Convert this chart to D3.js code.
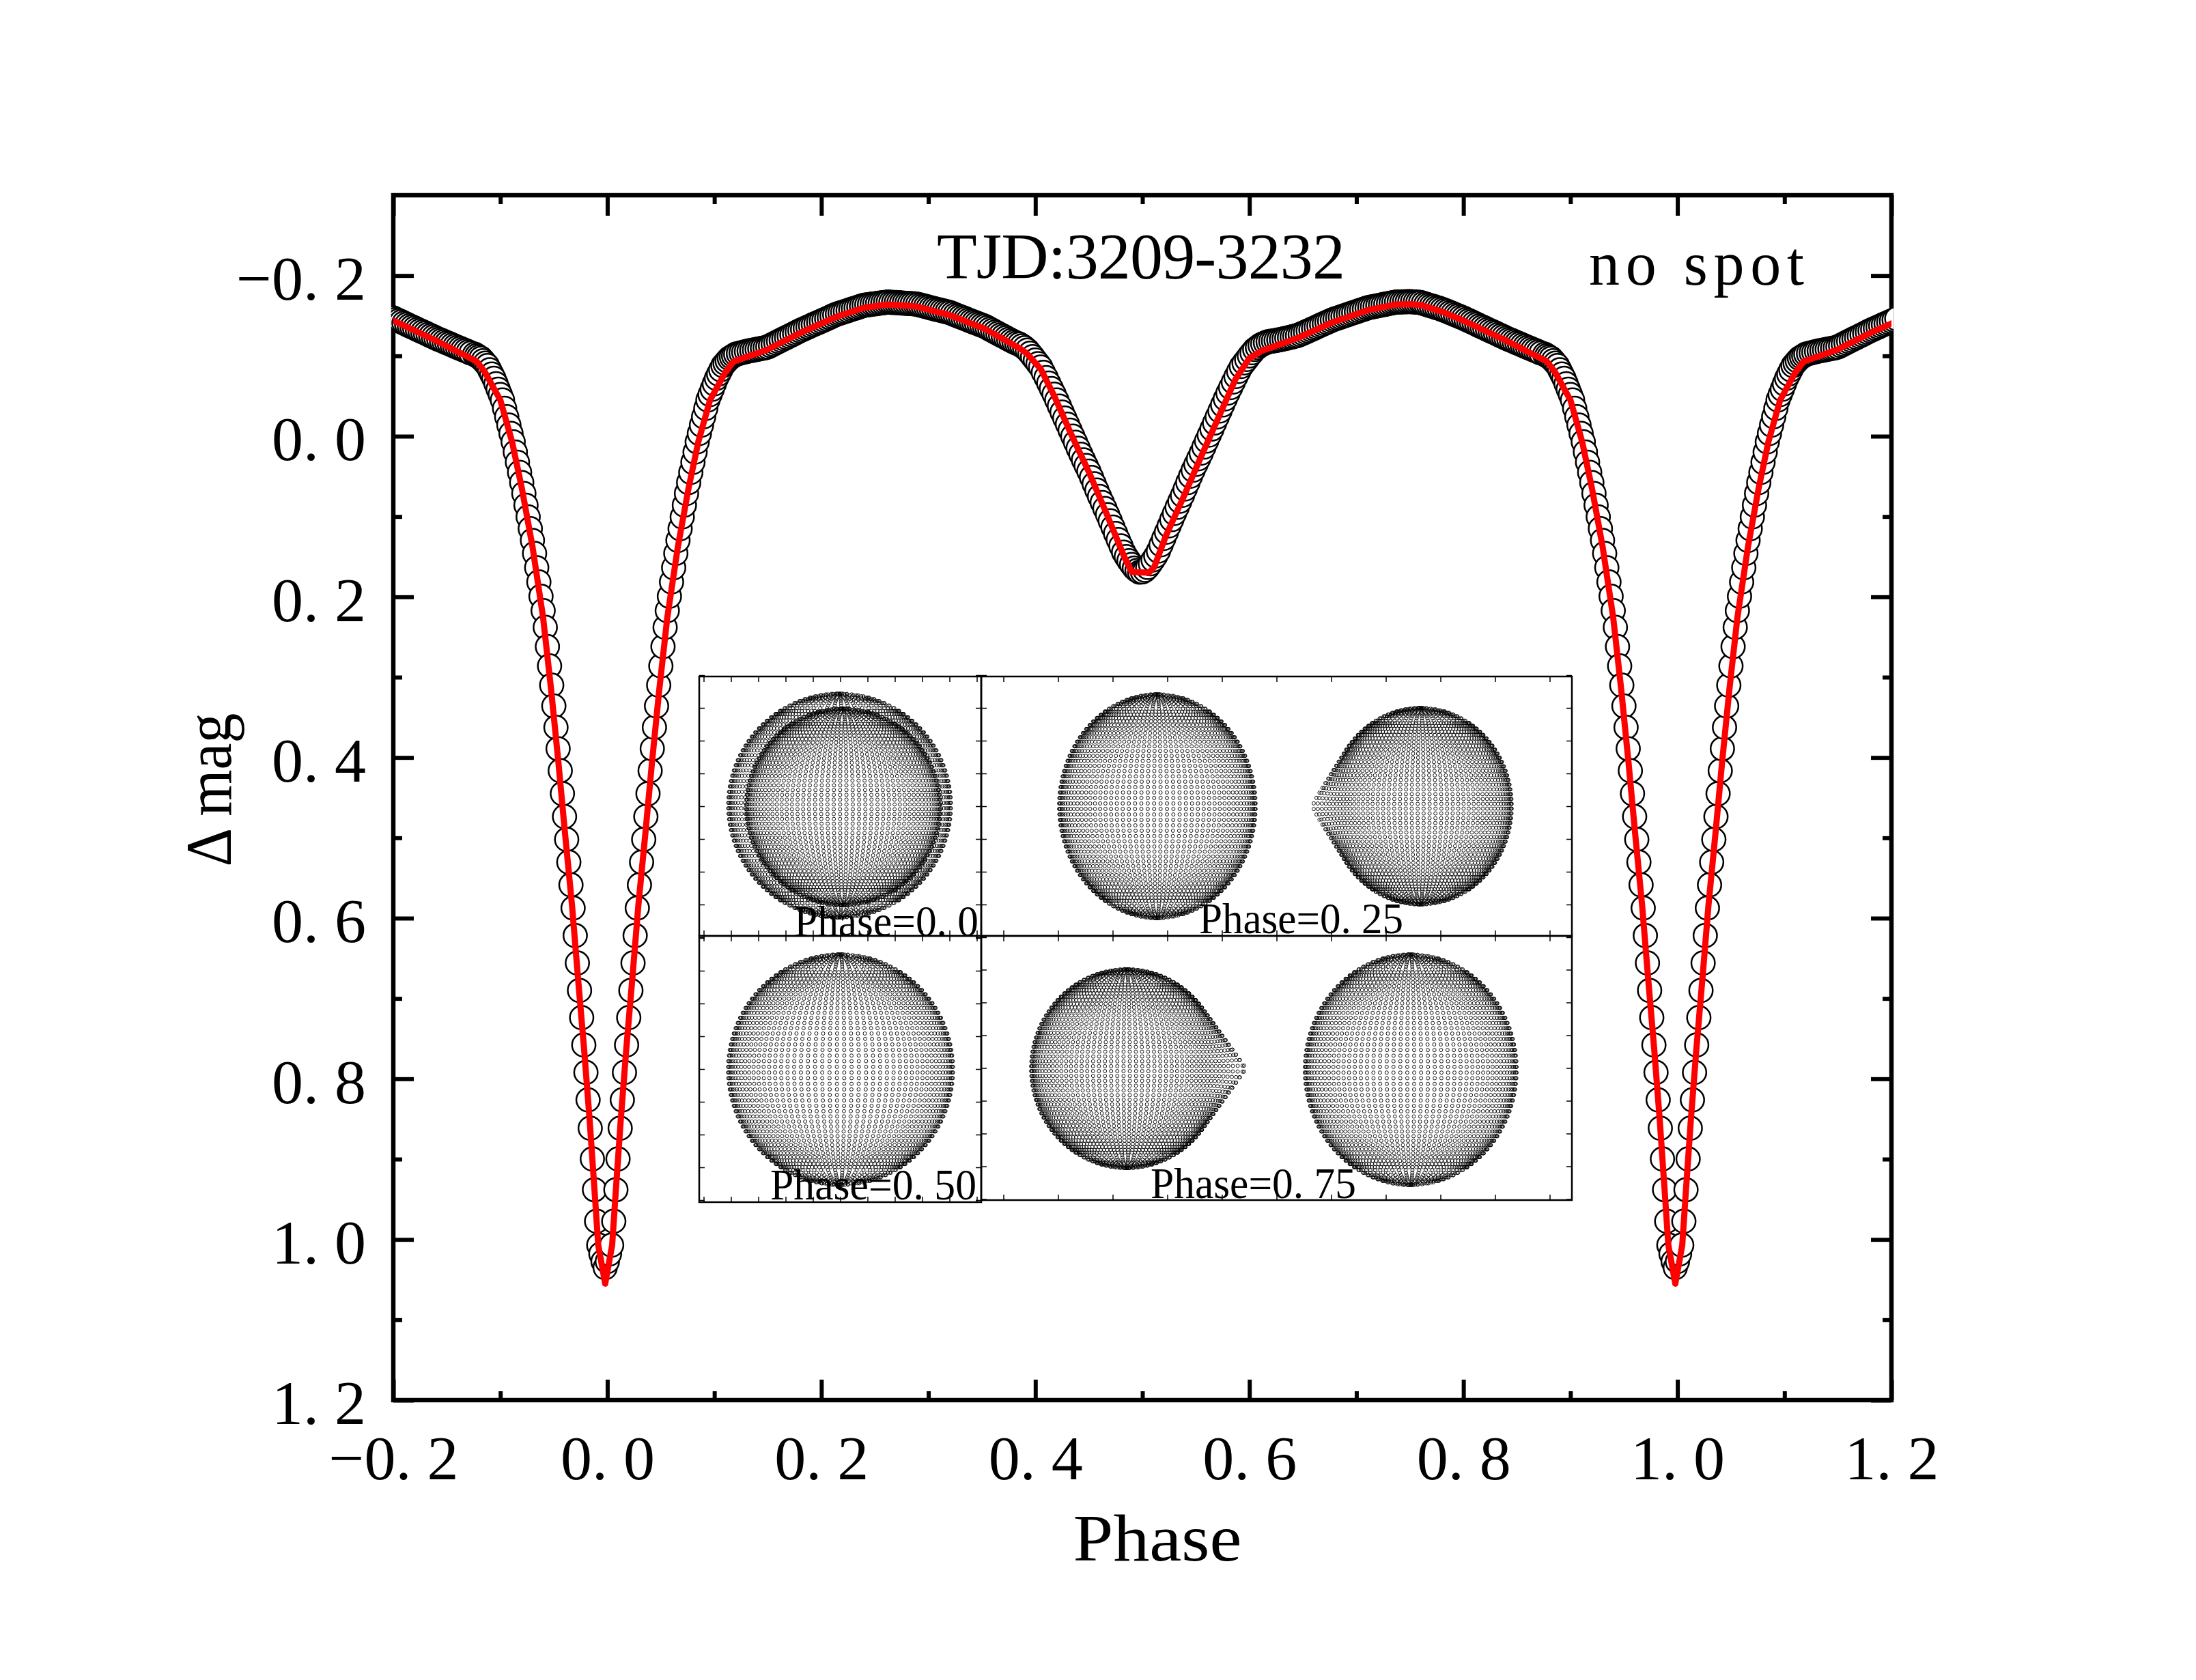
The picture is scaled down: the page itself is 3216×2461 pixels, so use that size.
<!DOCTYPE html>
<html lang="en">
<head>
<meta charset="utf-8">
<title>TJD 3209-3232 light curve</title>
<script src="https://cdn.jsdelivr.net/npm/d3@7"></script>
<style>
  body { margin: 0; background: #fff; }
  svg { display: block; }
</style>
</head>
<body>
<script>

// observed points for one cycle, read off the figure (phase, delta mag)
// the plot shows the same cycle again shifted by -1 and +1
var obs = [
 [-0.124,-0.102],[-0.122,-0.1003],[-0.12,-0.0987],[-0.118,-0.097],[-0.116,-0.094],[-0.114,-0.091],[-0.112,-0.088],[-0.11,-0.0827],
 [-0.108,-0.0773],[-0.106,-0.072],[-0.104,-0.0653],[-0.102,-0.0585],[-0.1,-0.0518],[-0.098,-0.045],[-0.096,-0.0346],[-0.094,-0.0242],
 [-0.092,-0.0138],[-0.09,-0.0034],[-0.088,0.007],[-0.086,0.0197],[-0.084,0.0324],[-0.082,0.045],[-0.08,0.0577],[-0.078,0.0713],
 [-0.076,0.0859],[-0.074,0.1005],[-0.072,0.1151],[-0.07,0.1297],[-0.068,0.1459],[-0.066,0.1637],[-0.064,0.1815],[-0.062,0.1993],
 [-0.06,0.2171],[-0.058,0.238],[-0.056,0.262],[-0.054,0.286],[-0.052,0.31],[-0.05,0.3359],[-0.048,0.3625],[-0.046,0.3891],
 [-0.044,0.4164],[-0.042,0.445],[-0.04,0.4736],[-0.038,0.502],[-0.036,0.5303],[-0.034,0.5586],[-0.032,0.5874],[-0.03,0.6216],
 [-0.028,0.6559],[-0.026,0.69],[-0.024,0.7239],[-0.022,0.7579],[-0.02,0.7921],[-0.018,0.8263],[-0.016,0.8616],[-0.014,0.8998],
 [-0.012,0.9381],[-0.01,0.9774],[-0.008,1.0071],[-0.006,1.018],[-0.004,1.0275],[-0.002,1.035],[0,1.0275],[0.002,1.018],
 [0.004,1.0071],[0.006,0.9774],[0.008,0.9381],[0.01,0.8998],[0.012,0.8616],[0.014,0.8263],[0.016,0.7921],[0.018,0.7579],
 [0.02,0.7239],[0.022,0.69],[0.024,0.6559],[0.026,0.6216],[0.028,0.5874],[0.03,0.5586],[0.032,0.5303],[0.034,0.502],
 [0.036,0.4736],[0.038,0.445],[0.04,0.4164],[0.042,0.3891],[0.044,0.3625],[0.046,0.3359],[0.048,0.31],[0.05,0.286],
 [0.052,0.262],[0.054,0.238],[0.056,0.2171],[0.058,0.1993],[0.06,0.1815],[0.062,0.1637],[0.064,0.1459],[0.066,0.1297],
 [0.068,0.1151],[0.07,0.1005],[0.072,0.0859],[0.074,0.0713],[0.076,0.0577],[0.078,0.045],[0.08,0.0324],[0.082,0.0197],
 [0.084,0.007],[0.086,-0.0034],[0.088,-0.0138],[0.09,-0.0242],[0.092,-0.0346],[0.094,-0.045],[0.096,-0.0518],[0.098,-0.0585],
 [0.1,-0.0653],[0.102,-0.072],[0.104,-0.0773],[0.106,-0.0827],[0.108,-0.088],[0.11,-0.091],[0.112,-0.094],[0.114,-0.097],
 [0.116,-0.0987],[0.118,-0.1003],[0.12,-0.102],
 [0.1225,-0.1029],[0.125,-0.1038],[0.1275,-0.1046],[0.13,-0.1055],[0.1325,-0.1062],
 [0.135,-0.1068],[0.1375,-0.1075],[0.14,-0.1082],[0.1425,-0.1088],[0.145,-0.1095],[0.1475,-0.1101],[0.15,-0.1112],[0.1525,-0.1129],
 [0.155,-0.1145],[0.1575,-0.1162],[0.16,-0.1179],[0.1625,-0.1196],[0.165,-0.1213],[0.1675,-0.1229],[0.17,-0.1246],[0.1725,-0.1263],
 [0.175,-0.128],[0.1775,-0.1297],[0.18,-0.1313],[0.1825,-0.1329],[0.185,-0.1344],[0.1875,-0.1359],[0.19,-0.1374],[0.1925,-0.1389],
 [0.195,-0.1403],[0.1975,-0.1418],[0.2,-0.1433],[0.2025,-0.1448],[0.205,-0.1463],[0.2075,-0.1478],[0.21,-0.1493],[0.2125,-0.1508],
 [0.215,-0.1521],[0.2175,-0.1532],[0.22,-0.1543],[0.2225,-0.1554],[0.225,-0.1565],[0.2275,-0.1576],[0.23,-0.1587],[0.2325,-0.1597],
 [0.235,-0.1608],[0.2375,-0.1619],[0.24,-0.163],[0.2425,-0.1635],[0.245,-0.1639],[0.2475,-0.1644],[0.25,-0.1648],[0.2525,-0.1653],
 [0.255,-0.1657],[0.2575,-0.1662],[0.26,-0.1666],[0.2625,-0.167],[0.265,-0.1667],[0.2675,-0.1665],[0.27,-0.1663],[0.2725,-0.1661],
 [0.275,-0.1658],[0.2775,-0.1656],[0.28,-0.1654],[0.2825,-0.1652],[0.285,-0.165],[0.2875,-0.1647],[0.29,-0.164],[0.2925,-0.1632],
 [0.295,-0.1623],[0.2975,-0.1615],[0.3,-0.1606],[0.3025,-0.1597],[0.305,-0.1589],[0.3075,-0.158],[0.31,-0.1572],[0.3125,-0.1564],
 [0.315,-0.1555],[0.3175,-0.1547],[0.32,-0.1538],[0.3225,-0.1525],[0.325,-0.1512],[0.3275,-0.1499],[0.33,-0.1486],[0.3325,-0.1472],
 [0.335,-0.1459],[0.3375,-0.1446],[0.34,-0.1433],[0.3425,-0.142],[0.345,-0.1407],[0.3475,-0.1394],[0.35,-0.1381],[0.3525,-0.1368],
 [0.355,-0.1351],[0.3575,-0.1333],[0.36,-0.1315],[0.3625,-0.1297],[0.365,-0.1279],[0.3675,-0.1261],[0.37,-0.1244],[0.3725,-0.1226],
 [0.375,-0.1208],[0.3775,-0.119],[0.38,-0.1173],[0.3825,-0.1159],[0.385,-0.1145],[0.3875,-0.1125],[0.39,-0.11],[0.3925,-0.1072],
 [0.395,-0.1032],[0.3975,-0.0991],[0.4,-0.0948],[0.4025,-0.0904],[0.405,-0.086],[0.4075,-0.0795],[0.41,-0.073],[0.4125,-0.0661],
 [0.415,-0.0593],[0.4175,-0.0524],[0.42,-0.045],[0.4225,-0.0375],[0.425,-0.03],[0.4275,-0.0225],[0.43,-0.015],[0.4325,-0.0075],
 [0.435,0],[0.4375,0.0075],[0.44,0.015],[0.4425,0.0224],[0.445,0.0295],[0.4475,0.0365],[0.45,0.0436],[0.4525,0.0513],
 [0.455,0.0593],[0.4575,0.0672],[0.46,0.075],[0.4625,0.0825],[0.465,0.09],[0.4675,0.0976],[0.47,0.1054],[0.4725,0.1132],
 [0.475,0.121],[0.4775,0.1288],[0.48,0.1366],[0.4825,0.1444],[0.485,0.15],[0.4875,0.155],[0.49,0.1597],[0.4925,0.1642],
 [0.495,0.1672],[0.4975,0.1692],[0.5,0.1688],[0.5025,0.1668],[0.505,0.1633],[0.5075,0.1588],[0.51,0.154],[0.5125,0.149],
 [0.515,0.1429],[0.5175,0.1351],[0.52,0.1273],[0.5225,0.1194],[0.525,0.1116],[0.5275,0.1038],[0.53,0.096],[0.5325,0.0885],
 [0.535,0.081],[0.5375,0.0735],[0.54,0.0656],[0.5425,0.0577],[0.545,0.0497],[0.5475,0.0422],[0.55,0.0351],[0.5525,0.0281],
 [0.555,0.021],[0.5575,0.0135],[0.56,0.006],[0.5625,-0.0015],[0.565,-0.009],[0.5675,-0.0165],[0.57,-0.024],[0.5725,-0.0315],
 [0.575,-0.039],[0.5775,-0.0465],[0.58,-0.0538],[0.5825,-0.0606],[0.585,-0.0675],[0.5875,-0.0743],[0.59,-0.0808],[0.5925,-0.0869],
 [0.595,-0.0913],[0.5975,-0.0956],[0.6,-0.1],[0.6025,-0.104],[0.605,-0.108],[0.6075,-0.1105],[0.61,-0.113],[0.6125,-0.1148],
 [0.615,-0.1162],[0.6175,-0.1175],[0.62,-0.1181],[0.6225,-0.1187],[0.625,-0.1193],[0.6275,-0.1199],[0.63,-0.1205],[0.6325,-0.1213],
 [0.635,-0.1221],[0.6375,-0.1229],[0.64,-0.1237],[0.6425,-0.1245],[0.645,-0.1254],[0.6475,-0.1266],[0.65,-0.1281],[0.6525,-0.1296],
 [0.655,-0.1311],[0.6575,-0.1326],[0.66,-0.1342],[0.6625,-0.1357],[0.665,-0.1372],[0.6675,-0.1387],[0.67,-0.1402],[0.6725,-0.1417],
 [0.675,-0.1432],[0.6775,-0.1447],[0.68,-0.1459],[0.6825,-0.147],[0.685,-0.1482],[0.6875,-0.1493],[0.69,-0.1505],[0.6925,-0.1516],
 [0.695,-0.1527],[0.6975,-0.1539],[0.7,-0.155],[0.7025,-0.1561],[0.705,-0.1573],[0.7075,-0.1584],[0.71,-0.1595],[0.7125,-0.1604],
 [0.715,-0.1611],[0.7175,-0.1617],[0.72,-0.1624],[0.7225,-0.1631],[0.725,-0.1638],[0.7275,-0.1644],[0.73,-0.1651],[0.7325,-0.1658],
 [0.735,-0.1665],[0.7375,-0.167],[0.74,-0.1671],[0.7425,-0.1672],[0.745,-0.1673],[0.7475,-0.1674],[0.75,-0.1675],[0.7525,-0.1673],
 [0.755,-0.167],[0.7575,-0.1668],[0.76,-0.1665],[0.7625,-0.1654],[0.765,-0.1643],[0.7675,-0.1633],[0.77,-0.1622],[0.7725,-0.1612],
 [0.775,-0.1601],[0.7775,-0.1591],[0.78,-0.158],[0.7825,-0.1566],[0.785,-0.1553],[0.7875,-0.1539],[0.79,-0.1525],[0.7925,-0.1511],
 [0.795,-0.1498],[0.7975,-0.1484],[0.8,-0.147],[0.8025,-0.1454],[0.805,-0.1439],[0.8075,-0.1423],[0.81,-0.1408],[0.8125,-0.1392],
 [0.815,-0.1376],[0.8175,-0.1361],[0.82,-0.1345],[0.8225,-0.1329],[0.825,-0.1314],[0.8275,-0.1298],[0.83,-0.1283],[0.8325,-0.1267],
 [0.835,-0.1251],[0.8375,-0.1236],[0.84,-0.122],[0.8425,-0.1206],[0.845,-0.1192],[0.8475,-0.1177],[0.85,-0.1163],[0.8525,-0.1149],
 [0.855,-0.1135],[0.8575,-0.112],[0.86,-0.1106],[0.8625,-0.1092],[0.865,-0.1078],[0.8675,-0.1064],[0.87,-0.1049],[0.8725,-0.1035]
];

// synthetic (model) curve vertices for one cycle
var model = [
 [-0.122,-0.093],[-0.114,-0.079],[-0.1,-0.045],[-0.089,0.007],[-0.08,0.064],[-0.07,0.137],[-0.06,0.226],[-0.0525,0.316],
 [-0.0458,0.405],[-0.0395,0.495],[-0.033,0.584],[-0.0275,0.673],[-0.0217,0.763],[-0.0165,0.852],[-0.0119,0.94],[-0.0085,1.007],
 [-0.002,1.055],[0.0045,1.007],[0.0079,0.94],[0.0125,0.852],[0.0177,0.763],[0.0235,0.673],[0.029,0.584],[0.0355,0.495],
 [0.0418,0.405],[0.0485,0.316],[0.056,0.226],[0.066,0.137],[0.076,0.064],[0.085,0.007],[0.096,-0.045],[0.11,-0.079],
 [0.118,-0.093],[0.149,-0.1075],[0.181,-0.129],[0.214,-0.1487],[0.24,-0.16],[0.262,-0.164],[0.288,-0.1617],[0.32,-0.1508],
 [0.353,-0.1335],[0.386,-0.109],[0.392,-0.103],[0.405,-0.0837],[0.418,-0.049],[0.434,-0.001],[0.4505,0.046],[0.467,0.098],
 [0.483,0.15],[0.49,0.169],[0.506,0.17],[0.511,0.163],[0.522,0.124],[0.538,0.077],[0.555,0.025],[0.571,-0.023],
 [0.587,-0.071],[0.6,-0.097],[0.611,-0.106],[0.646,-0.1227],[0.678,-0.142],[0.711,-0.157],[0.737,-0.164],[0.75,-0.1645],
 [0.76,-0.1635],[0.78,-0.155],[0.8,-0.144],[0.84,-0.119]
];

var xMajor = [-0.2, 0.0, 0.2, 0.4, 0.6, 0.8, 1.0, 1.2];
var xMinor = [-0.1, 0.1, 0.3, 0.5, 0.7, 0.9, 1.1];
var yMajor = [-0.2, 0.0, 0.2, 0.4, 0.6, 0.8, 1.0, 1.2];
var yMinor = [-0.1, 0.1, 0.3, 0.5, 0.7, 0.9, 1.1];

// inset: four views of the binary
var panelLabels = ["Phase=0. 0", "Phase=0. 25", "Phase=0. 50", "Phase=0. 75"];
// one entry per star: panel, centre, radii (panel units), tidal tip distance
var starPanel = [0, 0, 1, 1, 2, 2, 3, 3];
var starCx  = [-0.006, 0.028, -1.091, 1.319, 0.02, 0.003, -1.372, 1.228];
var starCy  = [0.006, -0.006, 0.0, 0.0, 0.0, -0.006, -0.006, -0.016];
var starRx  = [1.02, 0.89, 0.90, 0.834, 0.89, 1.03, 0.875, 0.97];
var starRy  = [1.025, 0.90, 1.025, 0.90, 0.90, 1.056, 0.91, 1.056];
var starTip = [0, 1.2, 0, 1.206, 1.2, 0, 1.25, 0];
var starTipDir = ["none", "away", "none", "left", "toward", "none", "right", "none"];
var starHiddenBy = [1, -1, -1, -1, 5, -1, -1, -1];

var W = 3216, H = 2461;
var serif = "'Liberation Serif', 'DejaVu Serif', serif";

var svg = d3.select("body").append("svg").attr("width", W).attr("height", H);
svg.append("rect").attr("width", W).attr("height", H).attr("fill", "#fff");

var x = d3.scaleLinear().domain([-0.2, 1.2]).range([576, 2770]);
var y = d3.scaleLinear().domain([-0.3, 1.2]).range([286, 2051]);

var fmt = function(d) { return d3.format(".1f")(d).replace(".", ". "); };

function addAxis(gen, tx, ty, values, len, labels, pad) {
  var g = svg.append("g").attr("transform", "translate(" + tx + "," + ty + ")")
    .call(gen.tickValues(values).tickSize(-len).tickPadding(pad || 0).tickFormat(labels ? fmt : ""));
  g.select(".domain").remove();
  g.selectAll(".tick line").attr("stroke", "#000").attr("stroke-width", 6);
  g.selectAll("text").attr("font-family", serif).attr("font-size", 92).attr("fill", "#000");
  return g;
}

addAxis(d3.axisBottom(x), 0, 2051, xMajor, 30, true, 51);
addAxis(d3.axisBottom(x), 0, 2051, xMinor, 13, false);
addAxis(d3.axisTop(x), 0, 286, xMajor, 30, false);
addAxis(d3.axisTop(x), 0, 286, xMinor, 13, false);
var yAx = addAxis(d3.axisLeft(y), 576, 0, yMajor, 30, true, 40);
yAx.selectAll("text").attr("dy", "0.38em");
addAxis(d3.axisLeft(y), 576, 0, yMinor, 13, false);
addAxis(d3.axisRight(y), 2770, 0, yMajor, 30, false);
addAxis(d3.axisRight(y), 2770, 0, yMinor, 13, false);

svg.append("rect")
  .attr("x", 576).attr("y", 286).attr("width", 2770 - 576).attr("height", 2051 - 286)
  .attr("fill", "none").attr("stroke", "#000").attr("stroke-width", 6.5);

// repeat the cycle so it covers -0.2 .. 1.2
var shifts = [-1, 0, 1];
var pts = [];
shifts.forEach(function(s) {
  obs.forEach(function(d) { pts.push([d[0] + s, d[1]]); });
});
pts = pts.filter(function(d) { return d[0] >= -0.215 && d[0] <= 1.205; });

var curve = [];
shifts.forEach(function(s) {
  model.forEach(function(d) { curve.push([d[0] + s, d[1]]); });
});
curve = curve.filter(function(d) { return d[0] >= -0.3 && d[0] <= 1.3; });

var defs = svg.append("defs");
defs.append("clipPath").attr("id", "plotClip").append("rect")
  .attr("x", 576).attr("y", 286).attr("width", 2770 - 576).attr("height", 2051 - 286);
defs.append("clipPath").attr("id", "dotClip").append("rect")
  .attr("x", 573).attr("y", 286).attr("width", 2773 - 573).attr("height", 2051 - 286);

svg.append("g").attr("clip-path", "url(#dotClip)")
  .selectAll("circle").data(pts).enter().append("circle")
  .attr("cx", function(d) { return x(d[0]); })
  .attr("cy", function(d) { return y(d[1]); })
  .attr("r", 17.2)
  .attr("fill", "#fff")
  .attr("stroke", "#000")
  .attr("stroke-width", 2.5);

var line = d3.line().x(function(d) { return x(d[0]); }).y(function(d) { return y(d[1]); });
svg.append("path").datum(curve)
  .attr("clip-path", "url(#plotClip)")
  .attr("d", line)
  .attr("fill", "none")
  .attr("stroke", "#ff0000")
  .attr("stroke-width", 9)
  .attr("stroke-linejoin", "round");

// titles
svg.append("text").attr("x", 1372).attr("y", 408)
  .attr("font-family", serif).attr("font-size", 96)
  .attr("textLength", 598).attr("lengthAdjust", "spacing")
  .text("TJD:3209-3232");
svg.append("text").attr("x", 2327).attr("y", 417)
  .attr("font-family", serif).attr("font-size", 90)
  .attr("textLength", 315).attr("lengthAdjust", "spacing")
  .text("no spot");
svg.append("text").attr("x", 1695).attr("y", 2286)
  .attr("text-anchor", "middle")
  .attr("font-family", serif).attr("font-size", 98)
  .attr("textLength", 247).attr("lengthAdjust", "spacingAndGlyphs")
  .text("Phase");
svg.append("text")
  .attr("transform", "translate(338,1157) rotate(-90)")
  .attr("text-anchor", "middle")
  .attr("font-family", serif).attr("font-size", 96)
  .attr("textLength", 225).attr("lengthAdjust", "spacingAndGlyphs")
  .text("\u0394 mag");

// ---- inset ----
var panelBox = [[1024, 1437, 991, 1371], [1437, 2302, 991, 1371], [1024, 1437, 1371, 1761], [1437, 2302, 1371, 1758]];
var labelPos = [[1433, 1371, 270], [2055, 1367, 299], [1430, 1757, 302], [1986, 1755, 301]];
var UNIT = 160;

var NL = 64, NM = 96;
var tipVec = { none: [0, 0, 0], left: [-1, 0, 0], right: [1, 0, 0], away: [0, 0, -1], toward: [0, 0, 1] };

// radius of a sphere drawn out into a cone toward the companion
function tipRadius(f, t) {
  if (!t || t <= 1) return 1;
  var th0 = Math.acos(1 / t), th = Math.acos(Math.max(-1, Math.min(1, f)));
  return th < th0 ? 1 / Math.cos(th0 - th) : 1;
}

// surface grid of a star seen edge-on; meridians are thinned toward the poles
function starPoints(i) {
  var c = tipVec[starTipDir[i]];
  var out = [];
  for (var j = 0; j < NL; j++) {
    var phi = -Math.PI / 2 + (j + 0.5) * Math.PI / NL;
    var cp = Math.cos(phi);
    var step = cp > 0.5 ? 1 : cp > 0.25 ? 2 : cp > 0.125 ? 4 : 8;
    for (var k = 0; k < NM; k += step) {
      var lam = 2 * Math.PI * (k + 0.5) / NM;
      var ux = cp * Math.sin(lam), uy = Math.sin(phi), uz = cp * Math.cos(lam);
      if (uz <= 0) continue;
      var r = tipRadius(ux * c[0] + uy * c[1] + uz * c[2], starTip[i]);
      out.push([starCx[i] + starRx[i] * r * ux, starCy[i] + starRy[i] * r * uy]);
    }
    // outline of the tip where it sticks out past the limb
    if (c[0] !== 0) {
      var ex = cp * c[0];
      if (ex > 0) {
        var r2 = tipRadius(ex, starTip[i]);
        out.push([starCx[i] + starRx[i] * r2 * c[0] * cp, starCy[i] + starRy[i] * r2 * Math.sin(phi)]);
      }
    }
  }
  var h = starHiddenBy[i];
  if (h >= 0) {
    out = out.filter(function(p) {
      var dx = (p[0] - starCx[h]) / starRx[h], dy = (p[1] - starCy[h]) / starRy[h];
      return dx * dx + dy * dy > 1;
    });
  }
  return out;
}

var inset = svg.append("g");
inset.append("rect").attr("x", 1024).attr("y", 991).attr("width", 2302 - 1024).attr("height", 1761 - 991)
  .attr("fill", "#fff");

panelBox.forEach(function(b, p) {
  var hx = (b[1] - b[0]) / 2 / UNIT, hy = (b[3] - b[2]) / 2 / UNIT;
  var px = d3.scaleLinear().domain([-hx, hx]).range([b[0], b[1]]);
  var py = d3.scaleLinear().domain([-hy, hy]).range([b[3], b[2]]);
  var g = inset.append("g");

  starPanel.forEach(function(sp, i) {
    if (sp !== p) return;
    g.append("g").selectAll("circle").data(starPoints(i)).enter().append("circle")
      .attr("cx", function(d) { return px(d[0]); })
      .attr("cy", function(d) { return py(d[1]); })
      .attr("r", 2.5)
      .attr("fill", "none")
      .attr("stroke", "#000")
      .attr("stroke-width", 0.9);
  });

  var xt = p % 2 === 0 ? d3.range(-1.25, 1.26, 0.25) : d3.range(-2.5, 2.51, 0.5);
  var yt = d3.range(-1.2, 1.21, 0.3);
  [[d3.axisTop(px), 0, b[2], xt], [d3.axisBottom(px), 0, b[3], xt],
   [d3.axisLeft(py), b[0], 0, yt], [d3.axisRight(py), b[1], 0, yt]].forEach(function(a) {
    var t = g.append("g").attr("transform", "translate(" + a[1] + "," + a[2] + ")")
      .call(a[0].tickValues(a[3]).tickSize(-8).tickFormat(""));
    t.select(".domain").remove();
    t.selectAll(".tick line").attr("stroke", "#000").attr("stroke-width", 1.5);
  });

  g.append("rect").attr("x", b[0]).attr("y", b[2]).attr("width", b[1] - b[0]).attr("height", b[3] - b[2])
    .attr("fill", "none").attr("stroke", "#000").attr("stroke-width", 2.5);

  g.append("text").attr("x", labelPos[p][0]).attr("y", labelPos[p][1])
    .attr("text-anchor", "end")
    .attr("font-family", serif).attr("font-size", 64)
    .attr("textLength", labelPos[p][2]).attr("lengthAdjust", "spacingAndGlyphs")
    .text(panelLabels[p]);
});

</script>
</body>
</html>
